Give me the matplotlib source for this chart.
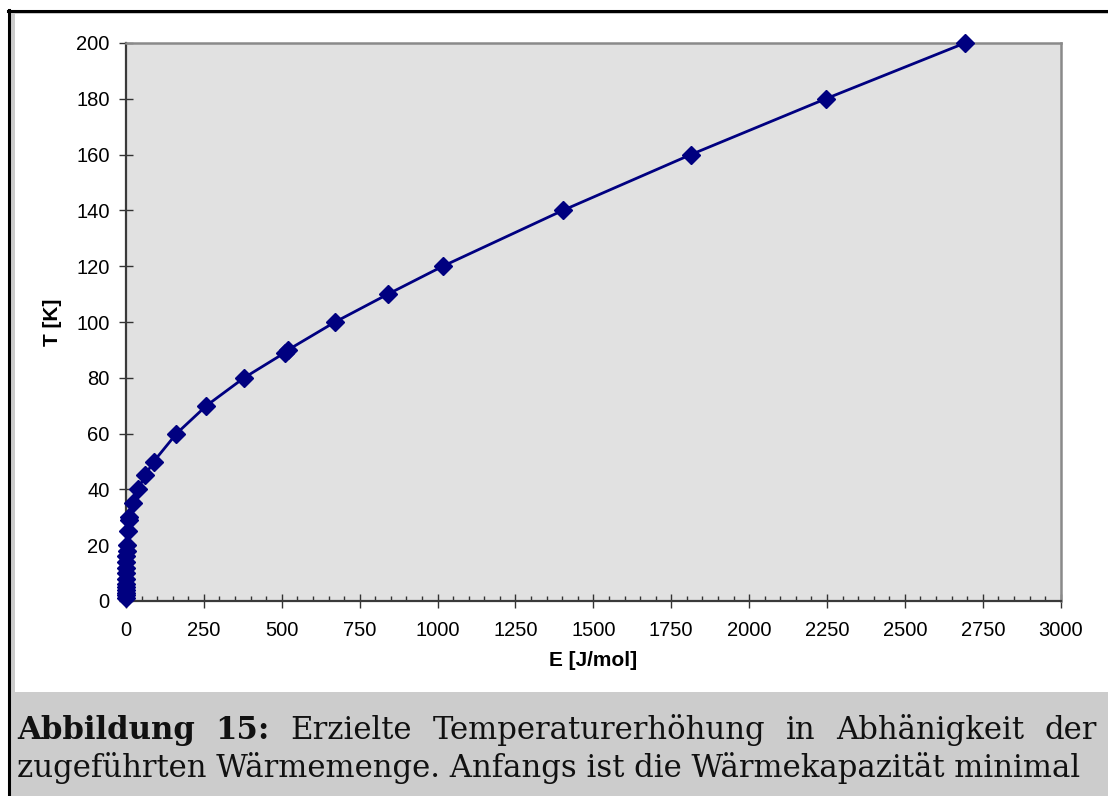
import matplotlib
matplotlib.use("Agg")
import matplotlib.pyplot as plt
from matplotlib.patches import Rectangle
from matplotlib.lines import Line2D
from matplotlib.ticker import MultipleLocator

# ---- data ----
energy = [0.0, 0.0, 0.0, 0.01, 0.02, 0.04, 0.1, 0.2, 0.4, 0.7, 1.2, 1.8, 2.6,
          7, 9, 11, 21, 39, 61, 89, 162, 258, 379, 510, 520, 671, 841, 1017,
          1402, 1813, 2246, 2693]
temperature = [1, 2, 3, 4, 5, 6, 8, 10, 12, 14, 16, 18, 20,
               25, 29, 30, 35, 40, 45, 50, 60, 70, 80, 89, 90, 100, 110, 120,
               140, 160, 180, 200]
x_ticks = [0, 250, 500, 750, 1000, 1250, 1500, 1750, 2000, 2250, 2500, 2750, 3000]
y_ticks = [0, 20, 40, 60, 80, 100, 120, 140, 160, 180, 200]
x_label = "E [J/mol]"
y_label = "T [K]"
caption_bold = ["Abbildung", "15:"]
caption_line1 = ["Erzielte", "Temperaturerhöhung", "in", "Abhänigkeit", "der"]
caption_line2 = "zugeführten Wärmemenge. Anfangs ist die Wärmekapazität minimal"

plt.rcParams["font.family"] = ["Liberation Sans", "DejaVu Sans"]

W, H = 1108, 796
fig = plt.figure(figsize=(W / 100, H / 100), dpi=100, facecolor="white")

def fx(x):
    return x / W

def fy(y):
    return 1 - y / H

# frame / backgrounds
fig.add_artist(Rectangle((fx(9), fy(H)), fx(W) - fx(9), fy(12) - fy(H),
                         transform=fig.transFigure, facecolor="#cccccc",
                         edgecolor="none", zorder=0))
fig.add_artist(Rectangle((fx(15), fy(692)), fx(W) - fx(15), fy(14) - fy(692),
                         transform=fig.transFigure, facecolor="white",
                         edgecolor="none", zorder=0))
fig.add_artist(Line2D([fx(7.5), fx(W)], [fy(10.5), fy(10.5)],
                      transform=fig.transFigure, color="black", lw=2.2, zorder=1))
fig.add_artist(Line2D([fx(8.5), fx(8.5)], [fy(10), fy(H)],
                      transform=fig.transFigure, color="black", lw=2.2, zorder=1))

# axes
x0, x1, y0, y1 = 126, 1060.7, 601, 43
ax = fig.add_axes([fx(x0), fy(y0), fx(x1) - fx(x0), fy(y1) - fy(y0)])
ax.set_facecolor("#e1e1e1")
ax.plot(energy, temperature, color="#000080", lw=2.0, marker="D",
        markersize=9, markeredgewidth=1, markeredgecolor="#000080",
        markerfacecolor="#000080", clip_on=False, zorder=5)
ax.set_xlim(0, 3000)
ax.set_ylim(0, 200)
ax.set_xticks(x_ticks)
ax.set_yticks(y_ticks)
ax.xaxis.set_minor_locator(MultipleLocator(50))

ax.tick_params(axis="both", which="major", direction="inout", length=9.5,
               width=1.0, color="#333333", labelsize=14.5, labelcolor="black")
ax.tick_params(axis="x", which="major", pad=10)
ax.tick_params(axis="y", which="major", pad=7)
ax.tick_params(axis="x", which="minor", direction="in", length=3.6,
               width=1.0, color="#333333")

for s in ["left", "bottom"]:
    ax.spines[s].set_color("#3a3a3a")
    ax.spines[s].set_linewidth(1.6)
for s in ["top", "right"]:
    ax.spines[s].set_color("#8a8a8a")
    ax.spines[s].set_linewidth(1.8)

ax.set_xlabel(x_label, fontsize=15, fontweight="bold", va="center")
ax.xaxis.set_label_coords(0.5, (y0 - 660) / (y0 - y1))
ax.set_ylabel(y_label, fontsize=15, fontweight="bold", va="center")
ax.yaxis.set_label_coords((52 - x0) / (x1 - x0), 0.5)

# caption
cap_font = "DejaVu Serif"
fig.canvas.draw()
renderer = fig.canvas.get_renderer()

def width_px(s, size, weight="normal"):
    t = fig.text(0, 0, s, fontsize=size, family=cap_font, fontweight=weight)
    w = t.get_window_extent(renderer).width
    t.remove()
    return w

left, right1, right2 = 17, 1097, 1080
ref_size = 20
w2 = width_px(caption_line2, ref_size)
size = ref_size * (right2 - left) / w2

fig.text(fx(left), fy(777), caption_line2, fontsize=size, family=cap_font,
         color="#111111", va="baseline", ha="left")

words = [(w, "bold") for w in caption_bold] + [(w, "normal") for w in caption_line1]
widths = [width_px(w, size, wt) for w, wt in words]
gap = (right1 - left - sum(widths)) / (len(words) - 1)
xpos = left
for (w, wt), wd in zip(words, widths):
    fig.text(fx(xpos), fy(739), w, fontsize=size, family=cap_font,
             fontweight=wt, color="#111111", va="baseline", ha="left")
    xpos += wd + gap

fig.savefig("out.png", dpi=100, facecolor="white")
